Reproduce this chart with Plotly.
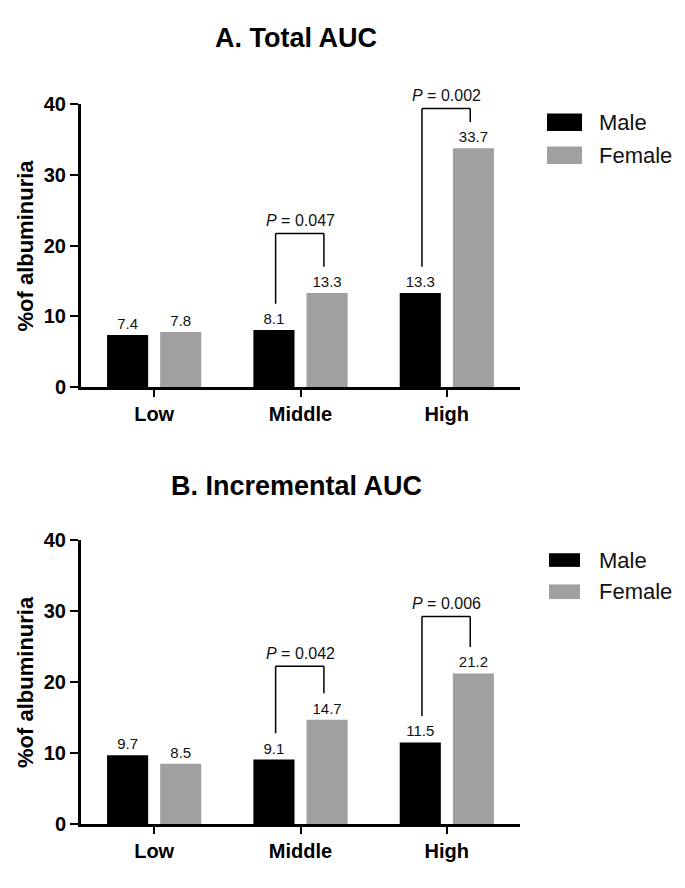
import plotly.graph_objects as go

# ---------------- data ----------------
categories = ["Low", "Middle", "High"]
series_names = ["Male", "Female"]
total_male = [7.4, 8.1, 13.3]
total_female = [7.8, 13.3, 33.7]
incr_male = [9.7, 9.1, 11.5]
incr_female = [8.5, 14.7, 21.2]
p_total = [None, "0.047", "0.002"]
p_incr = [None, "0.042", "0.006"]
y_ticks = [0, 10, 20, 30, 40]
panel_titles = ["A. Total AUC", "B. Incremental AUC"]
y_title = "%of albuminuria"

# ---------------- layout constants ----------------
W, H = 685, 888
FONT = "Liberation Sans, Arial, sans-serif"
colors = {"Male": "#000000", "Female": "#a0a0a0"}
bracket_tops = [[None, 21.7, 39.3], [None, 22.2, 29.2]]
leg_off = 3.7
p_off = 1.8
Y_MAX = 40


def px_x(x):
    return x / W


def px_y(y):
    return 1 - y / H


# panel pixel geometry: (top of plot, bottom of plot)
panels = [(95, 386), (542, 834)]
x_left, x_right = 81, 520

fig = go.Figure()
panel_data = [(total_male, total_female, p_total), (incr_male, incr_female, p_incr)]

shapes = []
annotations = []

for i, ((m_vals, f_vals, pvals), (ptop, pbot)) in enumerate(zip(panel_data, panels)):
    xa = "x" if i == 0 else "x2"
    ya = "y" if i == 0 else "y2"
    for name, vals in zip(series_names, [m_vals, f_vals]):
        fig.add_trace(go.Bar(
            x=categories, y=vals, name=name, xaxis=xa, yaxis=ya,
            marker=dict(color=colors[name], line=dict(width=0)),
            texttemplate="%{y:.1f}", textposition="outside",
            textfont=dict(family=FONT, size=15, color="#111111"),
            constraintext="none", cliponaxis=False, showlegend=False,
            offsetgroup=name,
        ))

    # significance brackets
    for j, p in enumerate(pvals):
        if p is None:
            continue
        top = bracket_tops[i][j]
        xl, xr = j - 0.17, j + 0.16
        lw = dict(color="black", width=1.5)
        shapes.append(dict(type="line", xref=xa, yref=ya, x0=xl, x1=xl,
                           y0=m_vals[j] + leg_off, y1=top, line=lw))
        shapes.append(dict(type="line", xref=xa, yref=ya, x0=xl, x1=xr,
                           y0=top, y1=top, line=lw))
        shapes.append(dict(type="line", xref=xa, yref=ya, x0=xr, x1=xr,
                           y0=f_vals[j] + leg_off, y1=top, line=lw))
        annotations.append(dict(
            x=j, y=(top + p_off) / Y_MAX, xref=xa, yref=ya + " domain",
            xanchor="center", yanchor="middle",
            text=f"<i>P</i> = {p}", showarrow=False,
            font=dict(family=FONT, size=16, color="#111111"),
        ))

    # panel title
    annotations.append(dict(
        x=px_x(296), y=px_y(ptop - 67 if i == 0 else ptop - 55), xref="paper", yref="paper",
        xanchor="center", yanchor="middle", text=panel_titles[i], showarrow=False,
        font=dict(family=FONT, size=27, color="black", weight="bold"),
    ))
    # y axis title
    annotations.append(dict(
        x=px_x(26), y=px_y((ptop + pbot) / 2), xref="paper", yref="paper",
        xanchor="center", yanchor="middle", text=y_title, textangle=-90,
        showarrow=False, font=dict(family=FONT, size=22, color="black", weight="bold"),
    ))

    # custom legend
    if i == 0:
        boxes = [(105, 123), (139, 157)]
        bx0, bx1 = 547, 582
    else:
        boxes = [(556, 570), (588, 603)]
        bx0, bx1 = 549, 580
    for name, (b0, b1) in zip(series_names, boxes):
        shapes.append(dict(type="rect", xref="paper", yref="paper",
                           x0=px_x(bx0), x1=px_x(bx1), y0=px_y(b1), y1=px_y(b0),
                           fillcolor=colors[name], line=dict(width=0)))
        annotations.append(dict(
            x=px_x(597), y=px_y((b0 + b1) / 2), xref="paper", yref="paper",
            xanchor="left", yanchor="middle", text=name, showarrow=False,
            font=dict(family=FONT, size=22, color="#111111"),
        ))

xaxis_common = dict(
    type="category", range=[-0.5, 2.5], showline=True, linewidth=3, linecolor="black",
    ticks="outside", ticklen=7, tickwidth=2, tickcolor="black", showgrid=False,
    zeroline=False, fixedrange=True,
    tickfont=dict(family=FONT, size=20, color="black", weight="bold"),
    domain=[px_x(x_left), px_x(x_right)],
)
yaxis_common = dict(
    range=[0, Y_MAX], tickvals=y_ticks, showline=True, linewidth=3, linecolor="black",
    ticks="outside", ticklen=8, tickwidth=2, tickcolor="black", showgrid=False,
    zeroline=False, fixedrange=True,
    tickfont=dict(family=FONT, size=20, color="black", weight="bold"),
)

fig.update_layout(
    width=W, height=H, autosize=False,
    margin=dict(l=0, r=0, t=0, b=0),
    paper_bgcolor="white", plot_bgcolor="white",
    barmode="group", bargap=0.274, bargroupgap=0.226,
    showlegend=False,
    xaxis=dict(**xaxis_common, anchor="y"),
    yaxis=dict(**yaxis_common, anchor="x", domain=[px_y(panels[0][1]), px_y(panels[0][0])]),
    xaxis2=dict(**xaxis_common, anchor="y2"),
    yaxis2=dict(**yaxis_common, anchor="x2", domain=[px_y(panels[1][1]), px_y(panels[1][0])]),
    shapes=shapes, annotations=annotations,
)

fig.write_html(
    "out.html",
    config={"displayModeBar": False},
    post_script="document.body.style.margin='0';document.body.style.overflow='hidden';",
)
